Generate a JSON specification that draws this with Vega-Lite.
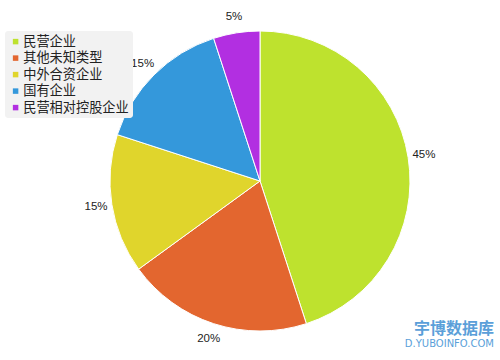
{
  "$schema": "https://vega.github.io/schema/vega-lite/v6.json",
  "width": 480,
  "height": 360,
  "autosize": "none",
  "padding": {"left": 20, "top": 1, "right": 0, "bottom": 0},
  "background": "white",
  "title": {
    "text": "宇博数据库",
    "subtitle": "D.YUBOINFO.COM",
    "orient": "bottom",
    "anchor": "end",
    "offset": -40,
    "font": "Noto Sans CJK SC",
    "fontSize": 16,
    "fontWeight": "bold",
    "color": "#5b9fd9",
    "subtitleFont": "DejaVu Sans",
    "subtitleFontSize": 10,
    "subtitleColor": "#5b9fd9",
    "subtitlePadding": 2,
    "dx": -6
  },
  "data": {
    "values": [
      {"type": "民营企业", "value": 45, "label": "45%", "idx": 1},
      {"type": "其他未知类型", "value": 20, "label": "20%", "idx": 2},
      {"type": "中外合资企业", "value": 15, "label": "15%", "idx": 3},
      {"type": "国有企业", "value": 15, "label": "15%", "idx": 4},
      {"type": "民营相对控股企业", "value": 5, "label": "5%", "idx": 5}
    ]
  },
  "encoding": {
    "theta": {"field": "value", "type": "quantitative", "stack": true},
    "order": {"field": "idx", "type": "quantitative"},
    "color": {
      "field": "type",
      "type": "nominal",
      "sort": ["民营企业", "其他未知类型", "中外合资企业", "国有企业", "民营相对控股企业"],
      "scale": {
        "domain": ["民营企业", "其他未知类型", "中外合资企业", "国有企业", "民营相对控股企业"],
        "range": ["#BEE22E", "#E3662F", "#E0D52C", "#3498DB", "#B22FE1"]
      },
      "legend": {
        "title": null,
        "orient": "none",
        "legendX": -15,
        "legendY": 30,
        "zindex": 0,
        "fillColor": "#F2F2F2",
        "cornerRadius": 3,
        "padding": 4,
        "symbolType": "square",
        "symbolSize": 30,
        "symbolStrokeWidth": 0,
        "symbolOffset": 0,
        "labelFont": "Noto Sans CJK SC",
        "labelFontSize": 13.2,
        "labelColor": "#222222",
        "labelOffset": 1,
        "rowPadding": 2.5
      }
    }
  },
  "layer": [
    {
      "mark": {"type": "arc", "outerRadius": 150, "stroke": "white", "strokeWidth": 1, "zindex": 1}
    },
    {
      "mark": {"type": "text", "radius": 166, "font": "Liberation Sans", "fontSize": 11.5, "zindex": 2},
      "encoding": {
        "text": {"field": "label"},
        "color": {"value": "#222222"}
      }
    }
  ],
  "config": {"view": {"stroke": null}}
}
